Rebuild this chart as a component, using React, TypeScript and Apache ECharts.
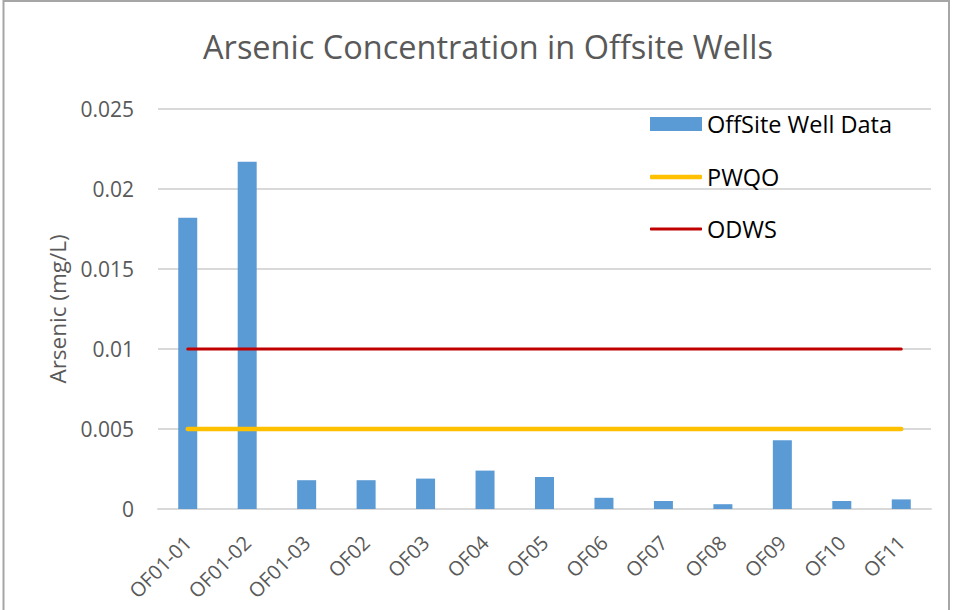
import React, { useEffect, useRef } from "react";
import * as echarts from "echarts";

const categories = [
  "OF01-01", "OF01-02", "OF01-03", "OF02", "OF03", "OF04", "OF05",
  "OF06", "OF07", "OF08", "OF09", "OF10", "OF11",
];
const wellData = [
  0.0182, 0.0217, 0.0018, 0.0018, 0.0019, 0.0024, 0.002,
  0.0007, 0.0005, 0.0003, 0.0043, 0.0005, 0.0006,
];
const pwqoLevel = 0.005;
const odwsLevel = 0.01;
const pwqo = categories.map(() => pwqoLevel);
const odws = categories.map(() => odwsLevel);
const yTicks = [0, 0.005, 0.01, 0.015, 0.02, 0.025];

const FONT = "'Open Sans', Lato, sans-serif";
const GREY = "#595959";

const legendBase = {
  orient: "vertical",
  left: 650,
  padding: 0,
  itemWidth: 52,
  textStyle: { fontFamily: FONT, fontSize: 23.5, color: "#000000", lineHeight: 24 },
};

export default function App() {
  const ref = useRef<HTMLDivElement>(null);
  useEffect(() => {
    if (!ref.current) return;
    const chart = echarts.init(ref.current, undefined, { renderer: "svg" });
    chart.setOption({
      animation: false,
      backgroundColor: "#ffffff",
      textStyle: { fontFamily: FONT },
      title: {
        text: "Arsenic Concentration in Offsite Wells",
        left: 483,
        top: 25,
        textAlign: "center",
        textStyle: { fontFamily: FONT, fontSize: 32.5, fontWeight: "normal", color: GREY },
      },
      graphic: [
        {
          type: "rect",
          silent: true,
          shape: { x: 3.5, y: 1, width: 945.5, height: 700 },
          style: { fill: "none", stroke: "#A6A6A6", lineWidth: 2 },
          z: 100,
        },
      ],
      legend: [
        {
          ...legendBase,
          top: 112,
          itemHeight: 14,
          icon: "rect",
          data: ["OffSite Well Data"],
        },
        {
          ...legendBase,
          top: 165,
          itemHeight: 4.5,
          icon: "roundRect",
          data: ["PWQO"],
        },
        {
          ...legendBase,
          top: 217,
          itemHeight: 3,
          icon: "roundRect",
          data: ["ODWS"],
        },
      ],
      grid: { left: 158, right: 26, top: 109, bottom: 101, containLabel: false },
      xAxis: {
        type: "category",
        data: categories,
        boundaryGap: true,
        axisLine: { show: true, lineStyle: { color: "#D9D9D9", width: 2 } },
        axisTick: { show: false },
        axisLabel: {
          rotate: 45,
          interval: 0,
          margin: 30,
          fontFamily: FONT,
          fontSize: 20,
          color: GREY,
        },
      },
      yAxis: {
        type: "value",
        min: 0,
        max: 0.025,
        interval: 0.005,
        name: "Arsenic (mg/L)",
        nameLocation: "middle",
        nameGap: 89,
        nameTextStyle: { fontFamily: FONT, fontSize: 22.5, color: GREY },
        axisLine: { show: false },
        axisTick: { show: false },
        splitLine: { lineStyle: { color: "#D9D9D9", width: 2 } },
        axisLabel: {
          margin: 24,
          fontFamily: FONT,
          fontSize: 21,
          color: GREY,
          formatter: (v: number) => {
            const t = yTicks.find((x) => Math.abs(x - v) < 1e-9);
            return String(t !== undefined ? t : v);
          },
        },
      },
      series: [
        {
          name: "OffSite Well Data",
          type: "bar",
          data: wellData,
          barWidth: 19,
          itemStyle: { color: "#5B9BD5" },
          z: 2,
        },
        {
          name: "PWQO",
          type: "line",
          data: pwqo,
          symbol: "none",
          lineStyle: { color: "#FFC000", width: 4.5, cap: "round" },
          itemStyle: { color: "#FFC000" },
          z: 3,
        },
        {
          name: "ODWS",
          type: "line",
          data: odws,
          symbol: "none",
          lineStyle: { color: "#C00000", width: 3, cap: "round" },
          itemStyle: { color: "#C00000" },
          z: 4,
        },
      ],
    });
    return () => chart.dispose();
  }, []);
  return (
    <div
      ref={ref}
      style={{ position: "fixed", left: 0, top: 0, width: 957, height: 610 }}
    />
  );
}
